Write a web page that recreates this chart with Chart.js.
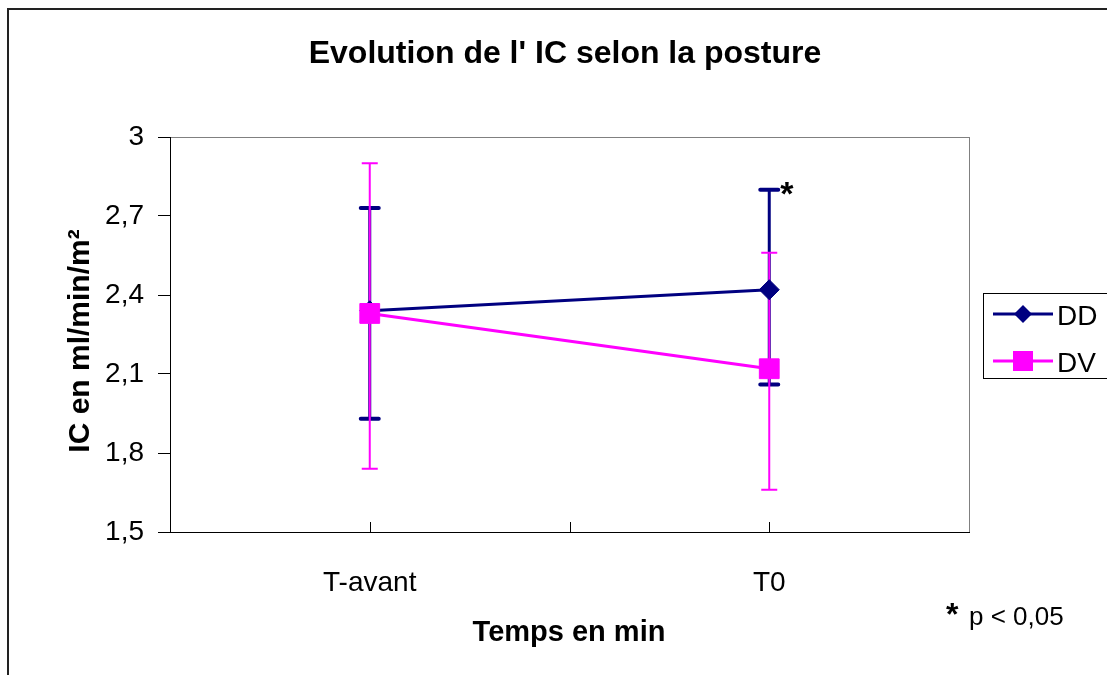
<!DOCTYPE html>
<html>
<head>
<meta charset="utf-8">
<script src="https://cdn.jsdelivr.net/npm/chart.js@4.4.1/dist/chart.umd.min.js"></script>
<style>
  body { margin: 0; background: #fff; }
  canvas { display: block; }
</style>
</head>
<body>
<canvas id="icGraf" width="1107" height="675"></canvas>
<script>
// Données
const categories = ['T-avant', 'T0'];
const ddMoyenne = [2.34, 2.42];
const ddBas = [1.93, 2.06];
const ddHaut = [2.73, 2.80];
const dvMoyenne = [2.33, 2.12];
const dvBas = [1.74, 1.66];
const dvHaut = [2.90, 2.56];
const yTicks = [1.5, 1.8, 2.1, 2.4, 2.7, 3];

// positions des categories sur un axe 0..4 (ticks a 1, 2, 3)
const catPos = categories.map((c, i) => 2 * i + 1);
const xTicks = [1, 2, 3];

const NAVY = '#000080';
const ROSE = '#FF00FF';
const FONT = '"Liberation Sans", Arial, sans-serif';

const barres = [
    { bas: ddBas, haut: ddHaut, color: NAVY, width: 3, capW: 18, capLine: 4, round: true },
    { bas: dvBas, haut: dvHaut, color: ROSE, width: 2, capW: 16, capLine: 2, round: false }
];

// cadre, barres d'erreur et textes
const decorPlugin = {
    id: 'decor',
    beforeDraw(chart) {
        const ctx = chart.ctx;
        const a = chart.chartArea;
        ctx.save();
        ctx.fillStyle = '#fff';
        ctx.fillRect(0, 0, chart.width, chart.height);
        // bordure du graphique
        ctx.strokeStyle = '#222';
        ctx.lineWidth = 2;
        ctx.strokeRect(8, 9, 1200, 800);
        // bordure zone de tracé
        ctx.strokeStyle = '#808080';
        ctx.lineWidth = 1;
        ctx.strokeRect(a.left + 0.5, a.top + 0.5, a.right - a.left, a.bottom - a.top);
        ctx.restore();
    },
    beforeDatasetsDraw(chart) {
        const ctx = chart.ctx;
        const x = chart.scales.x;
        const y = chart.scales.y;
        const a = chart.chartArea;
        ctx.save();
        // petites graduations vers l'intérieur
        ctx.strokeStyle = '#000';
        ctx.lineWidth = 1;
        xTicks.forEach(v => {
            const px = Math.round(x.getPixelForValue(v)) + 0.5;
            ctx.beginPath();
            ctx.moveTo(px, a.bottom);
            ctx.lineTo(px, a.bottom - 10);
            ctx.stroke();
        });
        barres.forEach(b => {
            catPos.forEach((pos, i) => {
                const px = x.getPixelForValue(pos);
                const yb = y.getPixelForValue(b.bas[i]);
                const yh = y.getPixelForValue(b.haut[i]);
                ctx.strokeStyle = b.color;
                ctx.lineCap = 'butt';
                ctx.lineWidth = b.width;
                ctx.beginPath();
                ctx.moveTo(px, yb);
                ctx.lineTo(px, yh);
                ctx.stroke();
                ctx.lineWidth = b.capLine;
                ctx.lineCap = b.round ? 'round' : 'butt';
                ctx.beginPath();
                ctx.moveTo(px - b.capW / 2, yb);
                ctx.lineTo(px + b.capW / 2, yb);
                ctx.moveTo(px - b.capW / 2, yh);
                ctx.lineTo(px + b.capW / 2, yh);
                ctx.stroke();
            });
        });
        ctx.restore();
    },
    afterDraw(chart) {
        const ctx = chart.ctx;
        const x = chart.scales.x;
        const y = chart.scales.y;
        ctx.save();
        ctx.fillStyle = '#000';
        ctx.textBaseline = 'alphabetic';

        // titre
        ctx.textAlign = 'center';
        ctx.font = 'bold 32px ' + FONT;
        ctx.fillText("Evolution de l' IC selon la posture", 565, 63);

        // titre axe x
        ctx.font = 'bold 29px ' + FONT;
        ctx.fillText('Temps en min', 569, 641);

        // titre axe y
        ctx.save();
        ctx.translate(89, 341);
        ctx.rotate(-Math.PI / 2);
        ctx.font = 'bold 30px ' + FONT;
        ctx.fillText('IC en ml/min/m\u00B2', 0, 0);
        ctx.restore();

        // étoile de significativité
        ctx.textAlign = 'left';
        ctx.font = 'bold 34px ' + FONT;
        ctx.fillText('*', x.getPixelForValue(catPos[1]) + 11, y.getPixelForValue(ddHaut[1]) + 15);

        ctx.font = 'bold 32px ' + FONT;
        ctx.fillText('*', 946, 625);
        ctx.font = '26px ' + FONT;
        ctx.fillText('p < 0,05', 969, 625);

        // légende
        ctx.strokeStyle = '#000';
        ctx.lineWidth = 1;
        ctx.strokeRect(983.5, 293.5, 200, 85);
        const entrees = [
            { nom: 'DD', color: NAVY, y: 314, forme: 'diamant' },
            { nom: 'DV', color: ROSE, y: 361, forme: 'carre' }
        ];
        entrees.forEach(e => {
            ctx.strokeStyle = e.color;
            ctx.fillStyle = e.color;
            ctx.lineWidth = 3;
            ctx.beginPath();
            ctx.moveTo(993, e.y);
            ctx.lineTo(1053, e.y);
            ctx.stroke();
            ctx.beginPath();
            if (e.forme === 'diamant') {
                ctx.moveTo(1023, e.y - 9);
                ctx.lineTo(1032, e.y);
                ctx.lineTo(1023, e.y + 9);
                ctx.lineTo(1014, e.y);
                ctx.closePath();
            } else {
                ctx.rect(1013, e.y - 10, 20, 20);
            }
            ctx.fill();
            ctx.fillStyle = '#000';
            ctx.font = '28px ' + FONT;
            ctx.fillText(e.nom, 1057, e.y + 11);
        });
        ctx.restore();
    }
};

const grafData = {
    datasets: [{
        label: 'DD',
        data: catPos.map((p, i) => ({ x: p, y: ddMoyenne[i] })),
        borderColor: NAVY,
        backgroundColor: NAVY,
        borderWidth: 3,
        pointStyle: 'rectRot',
        pointRadius: 10,
        pointBorderWidth: 1,
        order: 2
    }, {
        label: 'DV',
        data: catPos.map((p, i) => ({ x: p, y: dvMoyenne[i] })),
        borderColor: ROSE,
        backgroundColor: ROSE,
        borderWidth: 3,
        pointStyle: 'rect',
        pointRadius: 14,
        pointBorderWidth: 1,
        order: 1
    }]
};

const grafConfig = {
    type: 'line',
    data: grafData,
    plugins: [decorPlugin],
    options: {
        responsive: false,
        animation: false,
        layout: { padding: { left: 70, top: 137, right: 138, bottom: 83 } },
        plugins: {
            legend: { display: false },
            tooltip: { enabled: false }
        },
        scales: {
            x: {
                type: 'linear',
                min: 0,
                max: 4,
                afterBuildTicks: s => { s.ticks = xTicks.map(v => ({ value: v })); },
                afterFit: s => { s.height = 60; },
                grid: { display: false },
                border: { display: true, color: '#000', width: 1 },
                ticks: {
                    autoSkip: false,
                    maxRotation: 0,
                    padding: 26,
                    color: '#000',
                    font: { family: FONT, size: 28 },
                    callback: v => {
                        const i = catPos.indexOf(v);
                        return i >= 0 ? categories[i] : '';
                    }
                }
            },
            y: {
                min: 1.5,
                max: 3,
                afterBuildTicks: s => { s.ticks = yTicks.map(v => ({ value: v })); },
                afterFit: s => { s.width = 100; },
                grid: { drawOnChartArea: false, color: '#000', tickLength: 12 },
                border: { display: true, color: '#000', width: 1 },
                ticks: {
                    padding: 14,
                    color: '#000',
                    font: { family: FONT, size: 28 },
                    callback: v => String(v).replace('.', ',')
                }
            }
        }
    }
};

let icGraf = new Chart(document.getElementById('icGraf'), grafConfig);
</script>
</body>
</html>
